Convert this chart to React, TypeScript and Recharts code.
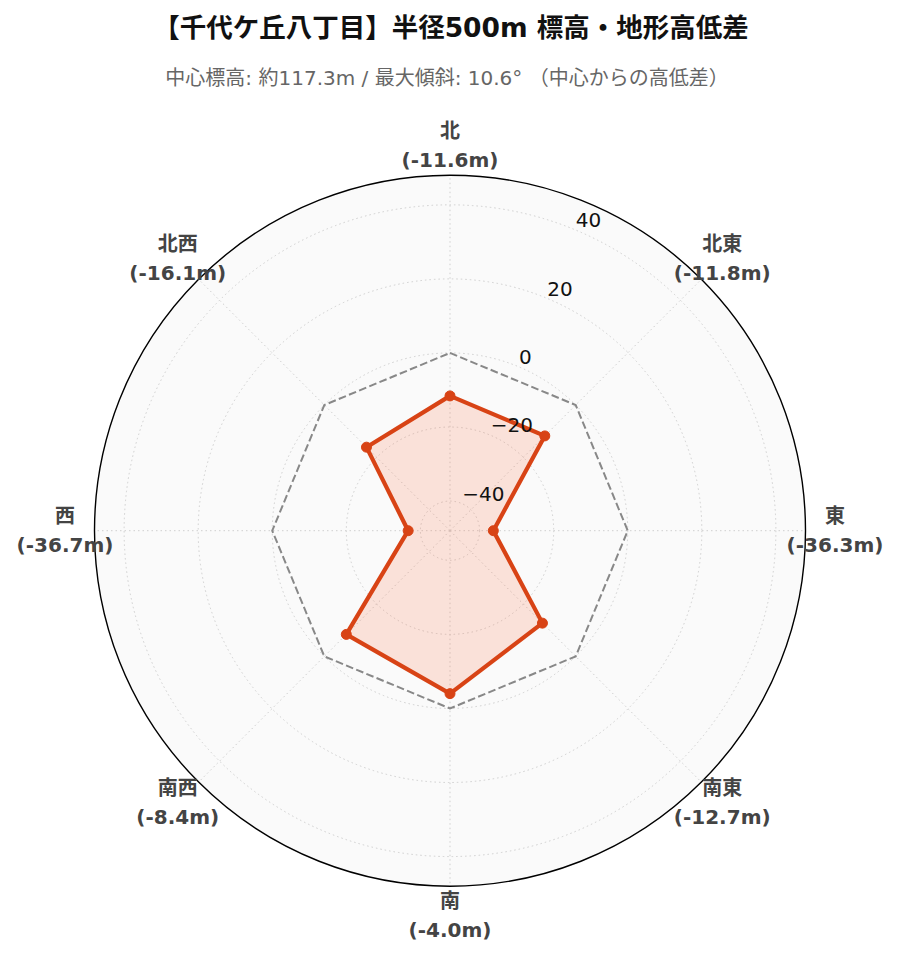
import React from 'react';
import { RadarChart, Radar, PolarGrid, PolarAngleAxis, PolarRadiusAxis } from 'recharts';

const TITLE = '【千代ケ丘八丁目】半径500m 標高・地形高低差';
const SUBTITLE = '中心標高: 約117.3m / 最大傾斜: 10.6° （中心からの高低差）';

const DIRECTIONS = ['北', '北東', '東', '南東', '南', '南西', '西', '北西'];
const ELEVATION_DIFF = [-11.6, -11.8, -36.3, -12.7, -4.0, -8.4, -36.7, -16.1];
const REFERENCE_LEVEL = 0;
const RADIAL_TICKS = [-40, -20, 0, 20, 40];
const RADIAL_DOMAIN = [-47.7, 47.7];

const W = 899;
const H = 962;
const CX = 450;
const CY = 530.7;
const R = 355.5;
const LABEL_R = 385;
const LINE = '#d84315';
const FILL = '#ff5722';
const FONT = "'DejaVu Sans', 'Noto Sans CJK JP', sans-serif";

const data = DIRECTIONS.map((dir, i) => ({
    dir,
    diff: ELEVATION_DIFF[i],
    zero: REFERENCE_LEVEL,
}));

function AngleTick(props: any) {
    const { payload } = props;
    const i = DIRECTIONS.indexOf(payload.value);
    const a = (payload.coordinate * Math.PI) / 180;
    const x = CX + LABEL_R * Math.cos(a);
    const y = CY - LABEL_R * Math.sin(a);
    return (
        <g fontFamily={FONT} fontWeight="bold" fontSize={20} fill="#444">
            <text x={x} y={y - 14.5} textAnchor="middle" dominantBaseline="central">{payload.value}</text>
            <text x={x} y={y + 14.5} textAnchor="middle" dominantBaseline="central">
                {`(${ELEVATION_DIFF[i].toFixed(1)}m)`}
            </text>
        </g>
    );
}

function RadiusTick(props: any) {
    const { x, y, payload } = props;
    const v = payload.value;
    const label = v < 0 ? `\u2212${Math.abs(v)}` : `${v}`;
    return (
        <text x={x + 1} y={y - 2.5} textAnchor="start" fontFamily={FONT} fontSize={20} fill="#111">
            {label}
        </text>
    );
}

export default function App() {
    return (
        <div style={{ position: 'absolute', left: 0, top: 0, width: W, height: H, background: '#fff' }}>
            <svg width={W} height={H} style={{ position: 'absolute', left: 0, top: 0 }}>
                <circle cx={CX} cy={CY} r={R} fill="#fafafa" stroke="#000" strokeWidth={1.4} />
                <text x={451} y={27} textAnchor="middle" dominantBaseline="central" fontFamily={FONT} fontWeight="bold" fontSize={26.5} fill="#111">
                    {TITLE}
                </text>
                <text x={447} y={78} textAnchor="middle" dominantBaseline="central" fontFamily={FONT} fontSize={20} fill="#666">
                    {SUBTITLE}
                </text>
            </svg>
            <div style={{ position: 'absolute', left: 0, top: 0 }}>
                <RadarChart
                    width={W}
                    height={H}
                    data={data}
                    cx={CX}
                    cy={CY}
                    outerRadius={R}
                    margin={{ top: 0, right: 0, bottom: 0, left: 0 }}
                >
                    <PolarGrid gridType="circle" stroke="#cfcfcf" strokeDasharray="1.5 3" strokeWidth={1} />
                    <PolarAngleAxis dataKey="dir" axisLine={false} tickLine={false} tick={AngleTick} />
                    <Radar
                        dataKey="zero"
                        stroke="#888"
                        strokeWidth={2}
                        strokeDasharray="7.7 3.3"
                        fill="none"
                        fillOpacity={0}
                        dot={false}
                        isAnimationActive={false}
                    />
                    <Radar
                        dataKey="diff"
                        stroke={LINE}
                        strokeWidth={4.2}
                        strokeLinejoin="round"
                        fill={FILL}
                        fillOpacity={0.15}
                        dot={{ r: 5, fill: LINE, fillOpacity: 1, stroke: LINE, strokeWidth: 1 }}
                        isAnimationActive={false}
                    />
                    <PolarRadiusAxis
                        angle={67.5}
                        type="number"
                        domain={RADIAL_DOMAIN}
                        ticks={RADIAL_TICKS}
                        axisLine={false}
                        tickLine={false}
                        tick={RadiusTick}
                    />
                </RadarChart>
            </div>
        </div>
    );
}
